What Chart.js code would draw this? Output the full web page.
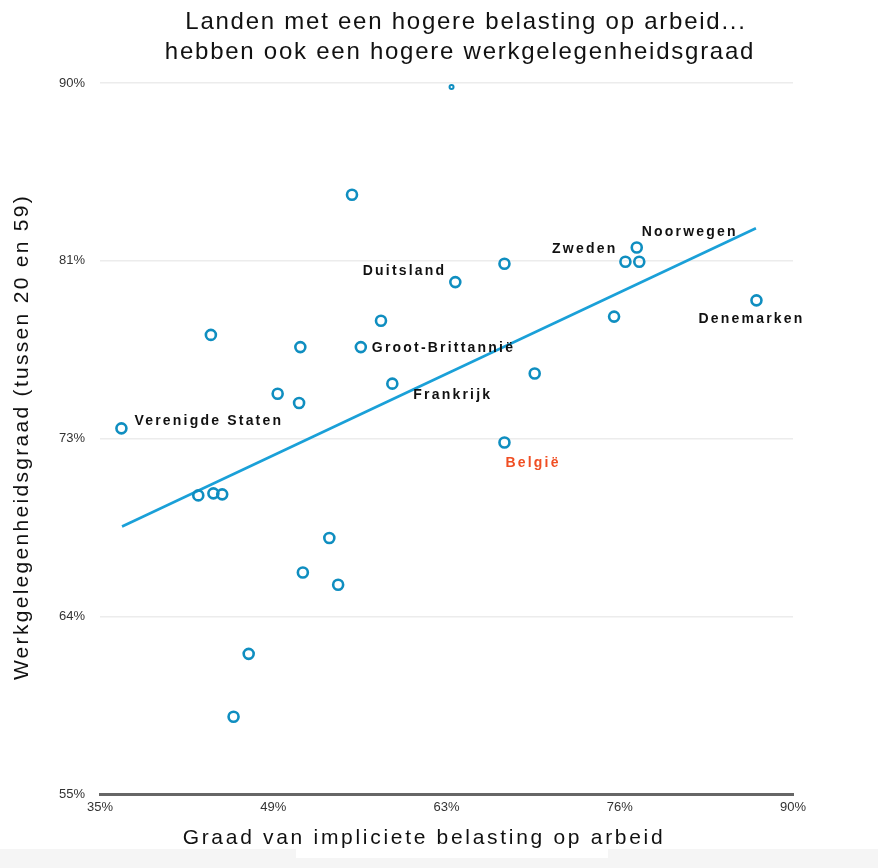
<!DOCTYPE html>
<html>
<head>
<meta charset="utf-8">
<script src="https://cdn.jsdelivr.net/npm/chart.js@4/dist/chart.umd.min.js"></script>
<style>
html,body{margin:0;padding:0;background:#fff;}
#wrap{width:878px;height:868px;position:relative;}
</style>
</head>
<body>
<div id="wrap"><canvas id="c" width="878" height="868"></canvas></div>
<script>
// ---- data ----
const landen = ['', '', 'Noorwegen', 'Zweden', '', '', 'Duitsland', 'Denemarken', '', '', '', '', 'Groot-Brittannië', '', 'Frankrijk', '', '', 'Verenigde Staten', 'België', '', '', '', '', '', '', '', ''];
const belasting = [62.9, 55.0, 77.6, 76.7, 77.8, 67.1, 63.2, 87.1, 75.8, 57.3, 43.8, 50.9, 55.7, 69.5, 58.2, 49.1, 50.8, 36.7, 67.1, 42.8, 44.0, 44.7, 53.2, 51.1, 53.9, 46.8, 45.6];
const werkgelegenheid = [89.8, 84.5, 81.9, 81.2, 81.2, 81.1, 80.2, 79.3, 78.5, 78.3, 77.6, 77.0, 77.0, 75.7, 75.2, 74.7, 74.25, 73.0, 72.3, 69.7, 69.8, 69.75, 67.6, 65.9, 65.3, 61.9, 58.8];
const trendX = [36.75, 87.06];
const trendY = [68.17, 82.85];
const xTickLabels = ['35%', '49%', '63%', '76%', '90%'];
const yTickLabels = ['55%', '64%', '73%', '81%', '90%'];
const titel = ['Landen met een hogere belasting op arbeid...', 'hebben ook een hogere werkgelegenheidsgraad'];
const xTitel = 'Graad van impliciete belasting op arbeid';
const yTitel = 'Werkgelegenheidsgraad (tussen 20 en 59)';
const uitgelicht = 'België';

// ---- styling / placement ----
const labelOffsets = {
  'Verenigde Staten': {dx: 13, dy: -7, align: 'left'},
  'Duitsland': {dx: -9, dy: -11, align: 'right'},
  'Groot-Brittannië': {dx: 11, dy: 1, align: 'left'},
  'Frankrijk': {dx: 21, dy: 11, align: 'left'},
  'Zweden': {dx: -8, dy: -13, align: 'right'},
  'Noorwegen': {dx: 5, dy: -15, align: 'left'},
  'Denemarken': {dx: -58, dy: 19, align: 'left'},
  'België': {dx: 1, dy: 21, align: 'left'}
};

const punten = belasting.map((v, i) => ({x: v, y: werkgelegenheid[i]}));
const trend = trendX.map((v, i) => ({x: v, y: trendY[i]}));

const FONT = '"Liberation Sans", Arial, Helvetica, sans-serif';

const textPlugin = {
  id: 'texts',
  beforeDraw(chart) {
    const ctx = chart.ctx;
    ctx.save();
    ctx.fillStyle = '#ffffff';
    ctx.fillRect(0, 0, chart.width, chart.height);
    ctx.fillStyle = '#f5f5f5';
    ctx.fillRect(0, 849, chart.width, chart.height - 849);
    ctx.fillStyle = '#ffffff';
    ctx.fillRect(296, 849, 312, 9);
    ctx.restore();
  },
  afterDatasetsDraw(chart) {
    const {ctx, scales: {x, y}} = chart;
    ctx.save();
    ctx.letterSpacing = '2.2px';
    ctx.font = 'bold 14px ' + FONT;
    ctx.textBaseline = 'middle';
    landen.forEach((name, i) => {
      if (!name) return;
      const o = labelOffsets[name] || {dx: 8, dy: 0, align: 'left'};
      const px = x.getPixelForValue(belasting[i]) + o.dx;
      const py = y.getPixelForValue(werkgelegenheid[i]) + o.dy;
      ctx.textAlign = o.align;
      ctx.fillStyle = name === uitgelicht ? '#f04e23' : '#111111';
      ctx.fillText(name, px, py);
    });
    ctx.restore();
  },
  afterDraw(chart) {
    const ctx = chart.ctx;
    ctx.save();
    ctx.fillStyle = '#111111';
    ctx.textBaseline = 'middle';
    ctx.textAlign = 'center';
    ctx.letterSpacing = '1.75px';
    ctx.font = '24px ' + FONT;
    ctx.fillText(titel[0], 466, 22);
    ctx.fillText(titel[1], 460, 52);
    ctx.letterSpacing = '2.7px';
    ctx.font = '21px ' + FONT;
    ctx.fillText(xTitel, 424, 838);
    ctx.translate(22, 437);
    ctx.rotate(-Math.PI / 2);
    ctx.letterSpacing = '2.3px';
    ctx.fillText(yTitel, 0, 0);
    ctx.restore();
  }
};

new Chart(document.getElementById('c'), {
  type: 'scatter',
  data: {
    datasets: [
      {
        label: 'landen',
        data: punten,
        showLine: false,
        pointStyle: 'circle',
        pointRadius: (c) => (c.raw && c.raw.y >= 89.5 ? 2 : 5),
        pointBorderWidth: (c) => (c.raw && c.raw.y >= 89.5 ? 2 : 2.6),
        pointBackgroundColor: 'rgba(255,255,255,0)',
        pointBorderColor: '#0f8ec0',
        order: 1
      },
      {
        label: 'trend',
        data: trend,
        showLine: true,
        borderColor: '#1aa0d8',
        borderWidth: 2.6,
        pointRadius: 0,
        fill: false,
        order: 2
      }
    ]
  },
  options: {
    responsive: false,
    animation: false,
    devicePixelRatio: 1,
    layout: {padding: {left: 0, right: 85, top: 83, bottom: 0}},
    plugins: {
      legend: {display: false},
      title: {display: false},
      tooltip: {enabled: false}
    },
    scales: {
      x: {
        type: 'linear',
        min: 35, max: 90,
        ticks: {
          stepSize: 13.75,
          padding: 6,
          color: '#333333',
          font: {family: FONT, size: 13},
          maxRotation: 0,
          callback: (v, i) => xTickLabels[i]
        },
        grid: {display: false, drawTicks: false},
        border: {display: true, color: '#666666', width: 3},
        afterFit: (s) => { s.height = 74; }
      },
      y: {
        type: 'linear',
        min: 55, max: 90,
        ticks: {
          stepSize: 8.75,
          padding: 15,
          color: '#333333',
          font: {family: FONT, size: 13},
          callback: (v, i) => yTickLabels[i]
        },
        grid: {display: true, color: '#ececec', lineWidth: 1.5, drawTicks: false},
        border: {display: false},
        afterFit: (s) => { s.width = 100; }
      }
    }
  },
  plugins: [textPlugin]
});
</script>
</body>
</html>
